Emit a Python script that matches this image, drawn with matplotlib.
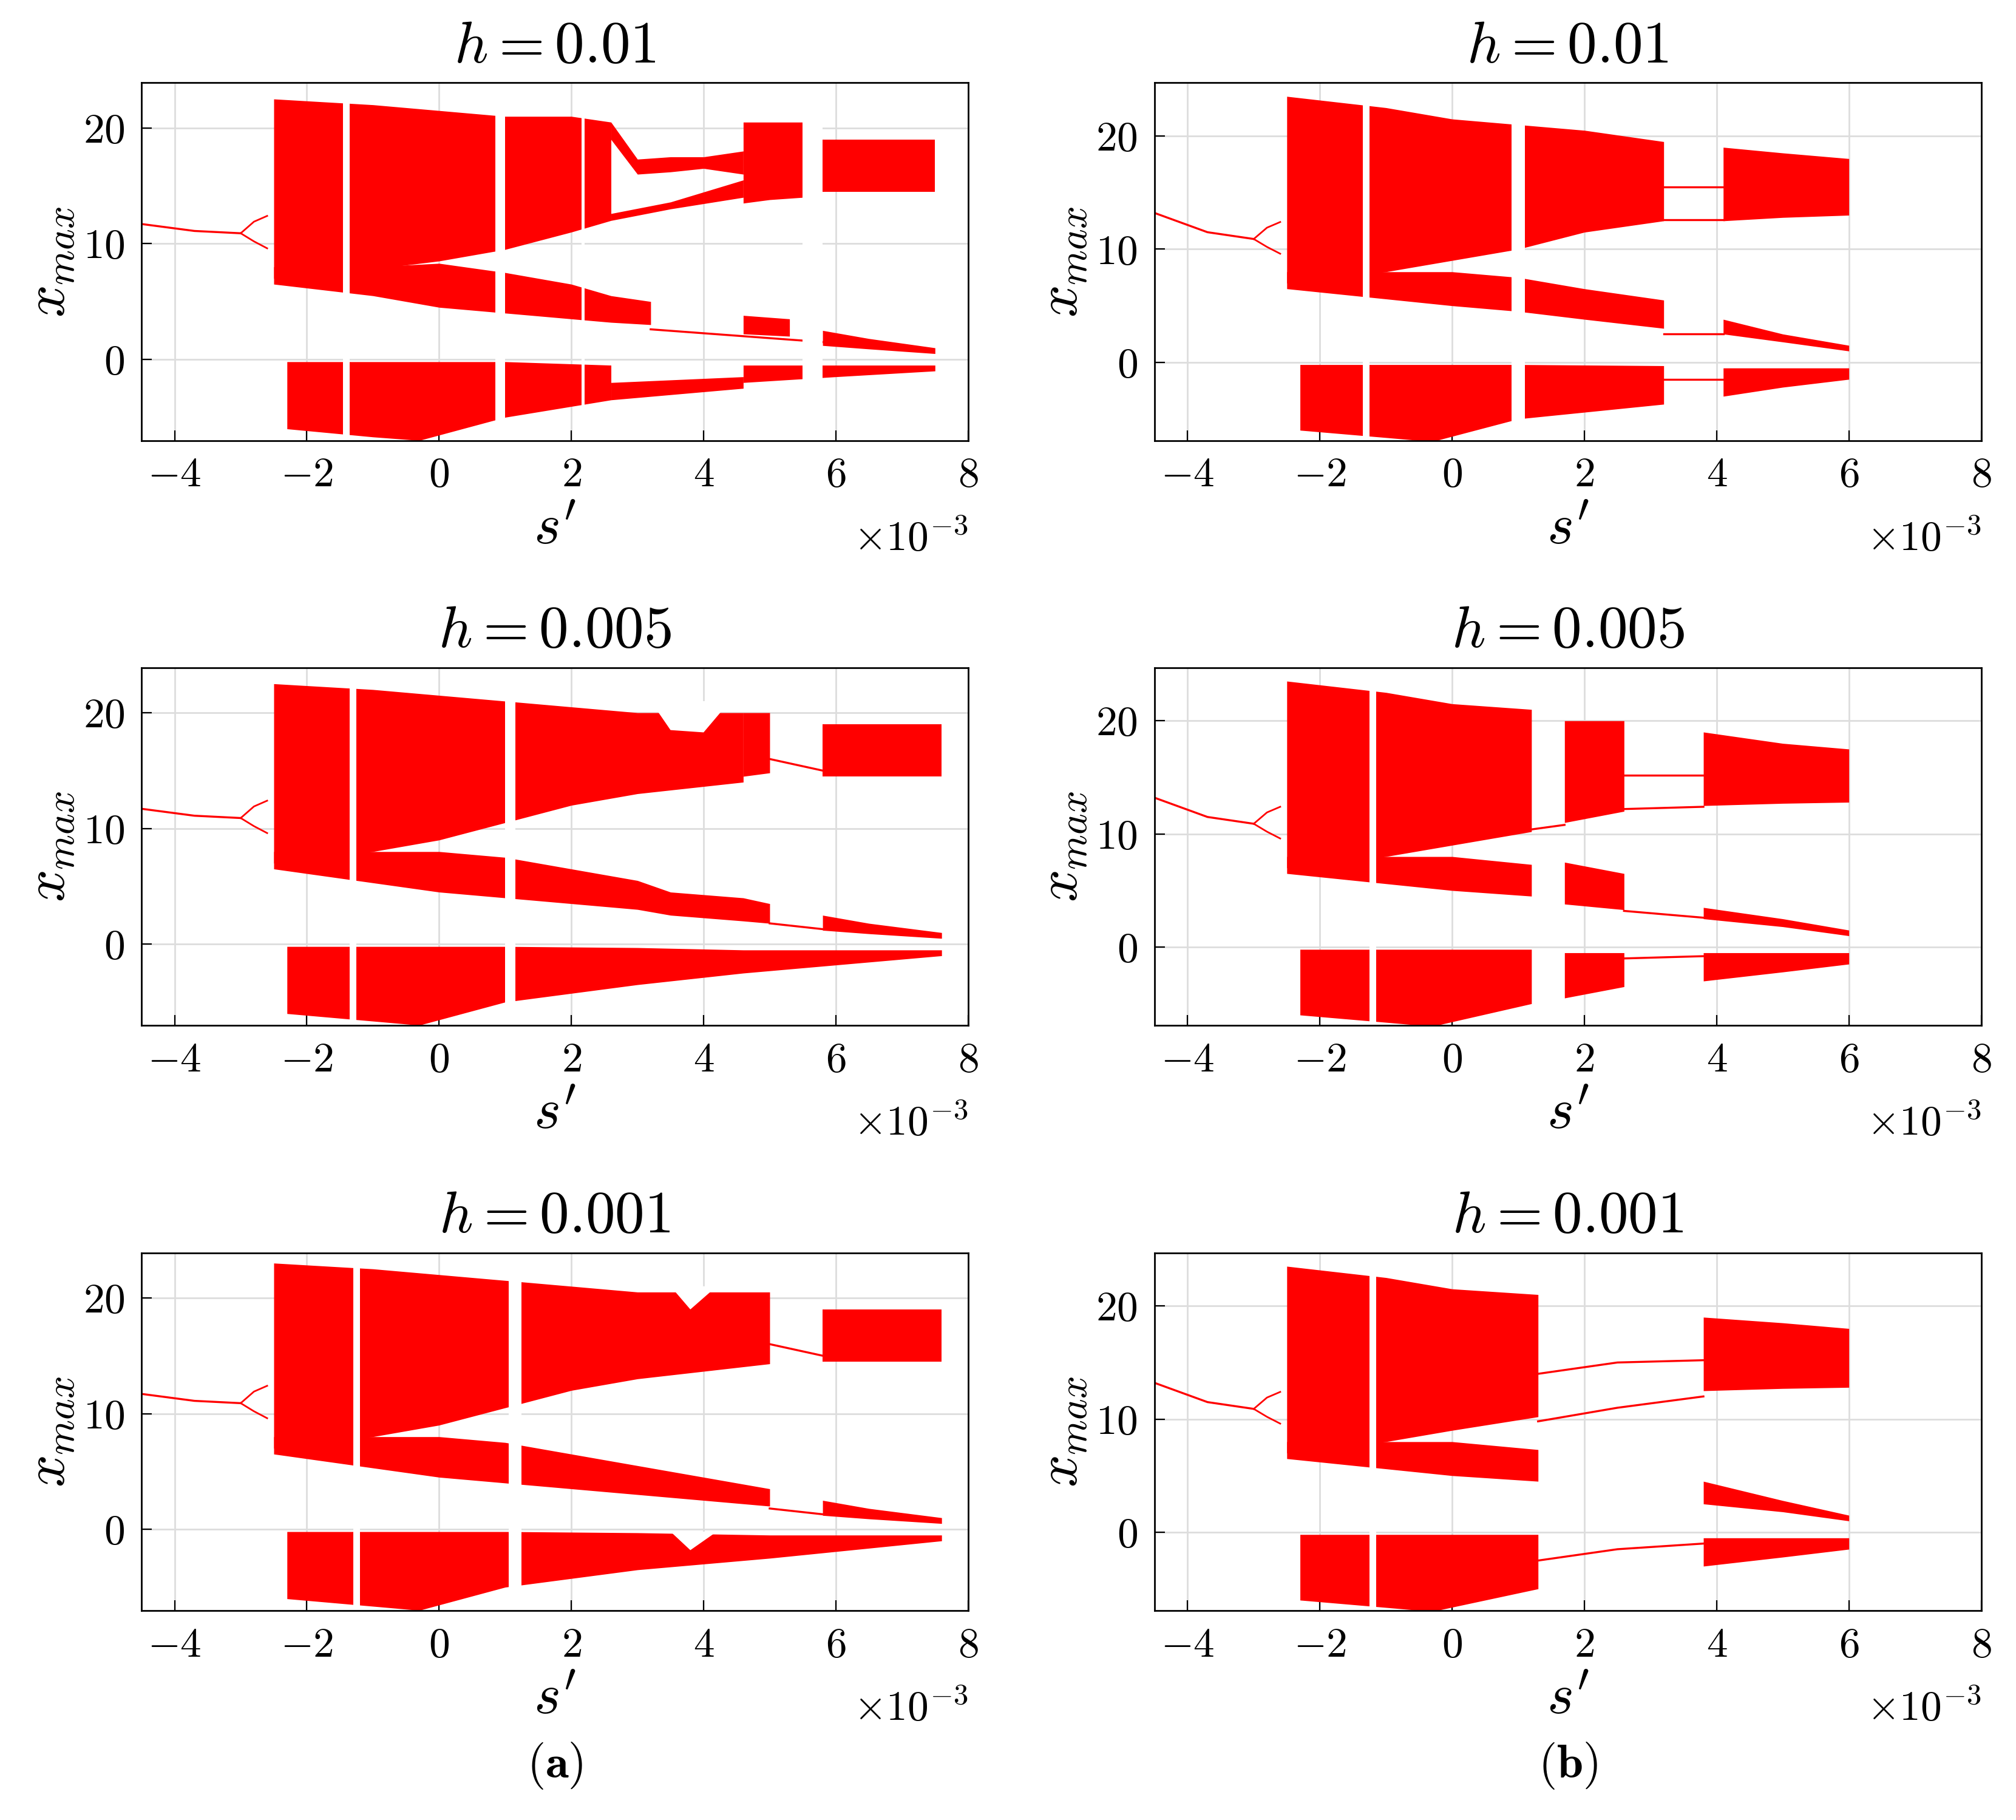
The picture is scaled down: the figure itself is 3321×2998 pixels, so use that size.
import matplotlib
matplotlib.use("Agg")
import matplotlib.pyplot as plt

plt.rcParams.update({"mathtext.fontset": "cm", "font.family": "serif",
                     "font.serif": ["cmr10"], "axes.formatter.use_mathtext": True,
                     "axes.unicode_minus": False})

RED = "#ff0000"
# ---- data (s in units of 1e-3) ----
lead_left_s = [-4.5, -3.7, -3.0]; lead_left_x = [11.7, 11.1, 10.9]
lead_right_s = [-4.5, -3.7, -3.0]; lead_right_x = [13.2, 11.5, 10.9]
bubble_s = [-3.0, -2.8, -2.6]; bubble_hi = [10.9, 11.9, 12.4]; bubble_lo = [10.9, 10.2, 9.6]

# each band: (s, lo, hi)
bands_L1 = [
    ([-2.5, -1, 0, 1, 2, 2.6], [7, 7.8, 8.5, 9.5, 11, 12], [22.5, 22, 21.5, 21, 21, 20.5]),
    ([2.6, 3.0, 3.5, 4.0, 4.6], [19, 16, 16.2, 16.5, 16], [20.5, 17.3, 17.5, 17.5, 18]),
    ([2.6, 3.5, 4.6], [12, 13, 14], [12.6, 13.6, 15.5]),
    ([4.6, 5.0, 5.5], [13.5, 13.8, 14], [20.5, 20.5, 20.5]),
    ([5.8, 6.5, 7.5], [14.5, 14.5, 14.5], [19, 19, 19]),
    ([-2.5, -1, 0, 1, 2, 2.6, 3.2], [6.5, 5.5, 4.5, 4, 3.5, 3.2, 3], [8, 8, 8.3, 7.5, 6.5, 5.5, 5]),
    ([4.6, 5.3], [2.2, 2.0], [3.8, 3.5]),
    ([5.8, 6.5, 7.5], [1.2, 0.9, 0.5], [2.5, 1.8, 1.0]),
    ([-2.3, -1, -0.3, 1, 2.6], [-6, -6.7, -7, -5, -3.5], [-0.2, -0.2, -0.2, -0.2, -0.5]),
    ([2.6, 4.6], [-3.5, -2.5], [-2, -1.5]),
    ([4.6, 6, 7.5], [-2, -1.5, -1], [-0.5, -0.5, -0.5]),
]
lines_L1 = [([3.2, 5.8], [2.6, 1.5]), ([5.5, 5.8], [14.5, 15])]
gaps_L1 = [(-1.45, -1.35), (0.85, 1.0), (2.15, 2.2), (5.5, 5.8)]
holes_L1 = []

bands_L2 = [
    ([-2.5, -1, 0, 1, 2, 3, 4.6], [7, 8, 9, 10.5, 12, 13, 14], [22.5, 22, 21.5, 21, 20.5, 20, 20]),
    ([4.6, 5.0], [14.5, 14.8], [20, 20]),
    ([5.8, 6.5, 7.6], [14.5, 14.5, 14.5], [19, 19, 19]),
    ([-2.5, 0, 1, 2, 3, 3.5, 4.6, 5.0], [6.5, 4.5, 4, 3.5, 3, 2.5, 2, 1.8], [8, 8, 7.5, 6.5, 5.5, 4.5, 4, 3.5]),
    ([5.8, 6.5, 7.6], [1.2, 0.9, 0.5], [2.5, 1.8, 1.0]),
    ([-2.3, -0.3, 1, 3, 4.6, 7.6], [-6, -7, -5, -3.5, -2.5, -1], [-0.2, -0.2, -0.2, -0.3, -0.5, -0.5]),
]
lines_L2 = [([5.0, 5.8], [16, 15]), ([5.0, 5.8], [1.8, 1.3])]
gaps_L2 = [(-1.35, -1.25), (1.0, 1.15)]
holes_L2 = [([3.2, 3.5, 4.0, 4.4], [21, 18.5, 18.3, 21]), ([3.8, 4.1], [14, 3])]

bands_L3 = [
    ([-2.5, -1, 0, 1, 2, 3, 5.0], [7, 8, 9, 10.5, 12, 13, 14.3], [23, 22.5, 22, 21.5, 21, 20.5, 20.5]),
    ([5.8, 6.5, 7.6], [14.5, 14.5, 14.5], [19, 19, 19]),
    ([-2.5, 0, 1, 2, 3, 4, 5.0], [6.5, 4.5, 4, 3.5, 3, 2.5, 2], [8, 8, 7.5, 6.5, 5.5, 4.5, 3.5]),
    ([5.8, 6.5, 7.6], [1.2, 0.9, 0.5], [2.5, 1.8, 1.0]),
    ([-2.3, -0.3, 1, 3, 5.0, 7.6], [-6, -7, -5, -3.5, -2.5, -1], [-0.2, -0.2, -0.2, -0.3, -0.5, -0.5]),
]
lines_L3 = [([5.0, 5.8], [16, 15]), ([5.0, 5.8], [1.8, 1.3])]
gaps_L3 = [(-1.3, -1.2), (1.05, 1.25)]
holes_L3 = [([3.5, 3.8, 4.2], [21, 19, 21]), ([3.5, 3.8, 4.2], [-0.2, -1.8, -0.2])]

bands_R1 = [
    ([-2.5, -1, 0, 1, 2, 3.2], [7, 8, 9, 10, 11.5, 12.5], [23.5, 22.5, 21.5, 21, 20.5, 19.5]),
    ([4.1, 5, 6], [12.5, 12.8, 13], [19, 18.5, 18]),
    ([-2.5, 0, 1, 2, 3.2], [6.5, 5, 4.5, 3.8, 3], [8, 8, 7.5, 6.5, 5.5]),
    ([4.1, 5, 6], [2.5, 1.8, 1], [3.8, 2.5, 1.5]),
    ([-2.3, -0.3, 1, 3.2], [-6, -7, -5, -3.7], [-0.2, -0.2, -0.2, -0.3]),
    ([4.1, 5, 6], [-3, -2.2, -1.5], [-0.5, -0.5, -0.5]),
]
lines_R1 = [([3.2, 4.1], [15.5, 15.5]), ([3.2, 4.1], [12.6, 12.6]), ([3.2, 4.1], [2.5, 2.5]), ([3.2, 4.1], [-1.5, -1.5])]
gaps_R1 = [(-1.35, -1.25), (0.9, 1.1)]
holes_R1 = []

bands_R2 = [
    ([-2.5, -1, 0, 1.2], [7, 8, 9, 10.2], [23.5, 22.5, 21.5, 21]),
    ([1.7, 2.6], [11, 12], [20, 20]),
    ([3.8, 5, 6], [12.5, 12.7, 12.8], [19, 18, 17.5]),
    ([-2.5, 0, 1.2], [6.5, 5, 4.5], [8, 8, 7.3]),
    ([1.7, 2.6], [3.8, 3.3], [7.5, 6.5]),
    ([3.8, 5, 6], [2.5, 1.8, 1], [3.5, 2.5, 1.5]),
    ([-2.3, -0.3, 1.2], [-6, -7, -5], [-0.2, -0.2, -0.2]),
    ([1.7, 2.6], [-4.5, -3.5], [-0.5, -0.5]),
    ([3.8, 5, 6], [-3, -2.2, -1.5], [-0.5, -0.5, -0.5]),
]
lines_R2 = [([1.2, 1.7], [10.4, 10.8]), ([2.6, 3.8], [15.2, 15.2]), ([2.6, 3.8], [12.2, 12.4]),
            ([2.6, 3.8], [3.2, 2.6]), ([2.6, 3.8], [-1.0, -0.8])]
gaps_R2 = [(-1.25, -1.15)]
holes_R2 = []

bands_R3 = [
    ([-2.5, -1, 0, 1.3], [7, 8, 9, 10.2], [23.5, 22.5, 21.5, 21]),
    ([3.8, 5, 6], [12.5, 12.7, 12.8], [19, 18.5, 18]),
    ([-2.5, 0, 1.3], [6.5, 5, 4.5], [8, 8, 7.3]),
    ([3.8, 5, 6], [2.5, 1.8, 1], [4.5, 2.8, 1.5]),
    ([-2.3, -0.3, 1.3], [-6, -7, -5], [-0.2, -0.2, -0.2]),
    ([3.8, 5, 6], [-3, -2.2, -1.5], [-0.5, -0.5, -0.5]),
]
lines_R3 = [([1.3, 2.5, 3.8], [14.0, 15.0, 15.2]), ([1.3, 2.5, 3.8], [9.8, 11.0, 12.0]),
            ([1.3, 2.5, 3.8], [-2.5, -1.5, -1.0])]
gaps_R3 = [(-1.25, -1.15)]
holes_R3 = []

titles = ["$h = 0.01$", "$h = 0.005$", "$h = 0.001$"]
panels = [
    [(bands_L1, lines_L1, gaps_L1, holes_L1), (bands_R1, lines_R1, gaps_R1, holes_R1)],
    [(bands_L2, lines_L2, gaps_L2, holes_L2), (bands_R2, lines_R2, gaps_R2, holes_R2)],
    [(bands_L3, lines_L3, gaps_L3, holes_L3), (bands_R3, lines_R3, gaps_R3, holes_R3)],
]
ylims = [(-7, 23.9), (-6.9, 24.7)]
xticks = [-4, -2, 0, 2, 4, 6, 8]
yticks = [0, 10, 20]

fig = plt.figure(figsize=(16.605, 14.99), dpi=200)
lefts = [0.0702, 0.5727]
bottoms = [0.758, 0.4367, 0.1152]
W, H = 0.410, 0.1965
for r in range(3):
    for c in range(2):
        ax = fig.add_axes([lefts[c], bottoms[r], W, H])
        bands, lines, gaps, holes = panels[r][c]
        ax.grid(True, color="#dddddd", lw=1.0, zorder=0)
        ax.set_axisbelow(True)
        ls, lx = (lead_left_s, lead_left_x) if c == 0 else (lead_right_s, lead_right_x)
        ax.plot(ls, lx, color=RED, lw=1.2, zorder=2)
        ax.plot(bubble_s, bubble_hi, color=RED, lw=1.0, zorder=2)
        ax.plot(bubble_s, bubble_lo, color=RED, lw=1.0, zorder=2)
        for s, lo, hi in bands:
            ax.fill_between(s, lo, hi, color=RED, lw=0, zorder=2)
        for s, x in lines:
            ax.plot(s, x, color=RED, lw=1.2, zorder=2)
        for a, b in gaps:
            ax.axvspan(a, b, color="white", lw=0, zorder=3)
        for s, x in holes:
            ax.fill(s, x, color="white", lw=0, zorder=3)
        ax.set_xlim(-4.5, 8)
        ax.set_ylim(*ylims[c])
        ax.set_xticks(xticks)
        ax.set_yticks(yticks)
        ax.tick_params(direction="in", labelsize=25, length=6, pad=10)
        for sp in ax.spines.values():
            sp.set_linewidth(1.0)
            sp.set_zorder(5)
        ax.set_title(titles[r], fontsize=35, pad=12)
        ax.set_xlabel("$s'$", fontsize=34, labelpad=6)
        ax.set_ylabel("$x_{max}$", fontsize=34, labelpad=4)
        ax.text(1.0, -0.22, r"$\times 10^{-3}$", transform=ax.transAxes,
                ha="right", va="top", fontsize=25)

fig.text(lefts[0] + W / 2, 0.016, r"$\mathbf{(a)}$", ha="center", va="bottom", fontsize=28)
fig.text(lefts[1] + W / 2, 0.016, r"$\mathbf{(b)}$", ha="center", va="bottom", fontsize=28)
fig.savefig("out.png", dpi=200)
